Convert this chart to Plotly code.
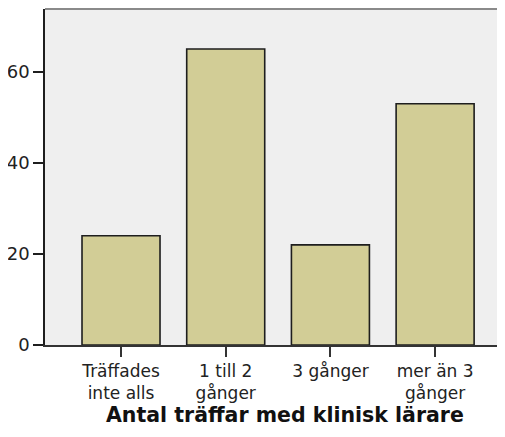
import plotly.graph_objects as go

categories = ["Träffades<br>inte alls", "1 till 2<br>gånger", "3 gånger", "mer än 3<br>gånger"]
counts = [24, 65, 22, 53]
y_ticks = [0, 20, 40, 60]
x_title = "Antal träffar med klinisk lärare"

# page has an 8px body margin; keep the figure small enough to avoid scrollbars
fig = go.Figure(go.Bar(
    x=categories, y=counts,
    width=0.745,
    marker=dict(color="#D2CD96", line=dict(color="#1E1E1E", width=1.6)),
))

fig.update_layout(
    width=489, height=421,
    margin=dict(l=37, r=0, t=1, b=84),
    paper_bgcolor="white",
    plot_bgcolor="#EFEFEF",
    showlegend=False,
    font=dict(family="DejaVu Sans", size=16, color="#222222"),
)
fig.update_xaxes(
    range=[-0.726, 3.591],
    showline=True, linecolor="#333333", linewidth=1.5,
    ticks="outside", ticklen=10, tickwidth=1.5, tickcolor="#333333",
    showgrid=False, tickfont=dict(size=17),
)
fig.update_yaxes(
    range=[0, 73.8], tickvals=y_ticks,
    showline=True, linecolor="#1E1E1E", linewidth=1.5,
    ticks="outside", ticklen=10, tickwidth=1.5, tickcolor="#1E1E1E",
    showgrid=False, zeroline=False, tickfont=dict(size=18),
)
fig.add_shape(type="line", xref="paper", yref="paper", x0=0, x1=1, y0=1, y1=1,
              line=dict(color="#8A8A8A", width=2))
fig.add_annotation(text="<b>" + x_title + "</b>", xref="paper", yref="paper",
                   x=0.53, y=-0.207, xanchor="center", yanchor="middle",
                   showarrow=False, font=dict(size=20.5, color="#111111"))

fig.write_html("out.html")
